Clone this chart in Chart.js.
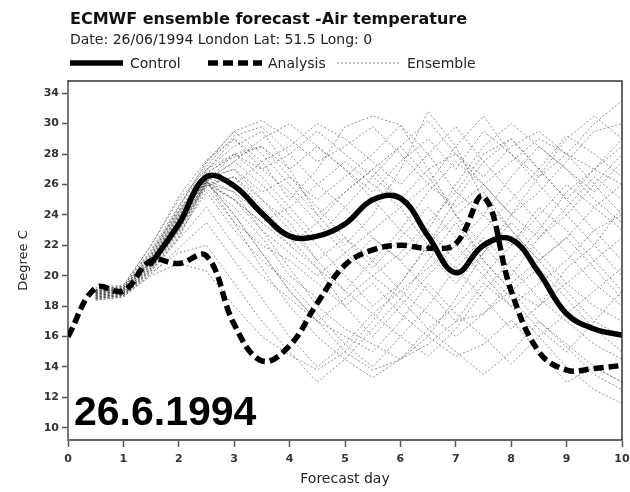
<!DOCTYPE html>
<html>
<head>
<meta charset="utf-8">
<script src="https://cdn.jsdelivr.net/npm/chart.js@4/dist/chart.umd.min.js"></script>
<style>
  html, body { margin: 0; padding: 0; background: #fff; }
  #wrap { width: 630px; height: 492px; }
</style>
</head>
<body>
<div id="wrap"><canvas id="c" width="630" height="492"></canvas></div>
<script>
// ---------- data ----------
const chartTitle = 'ECMWF ensemble forecast -Air temperature';
const chartSubtitle = 'Date: 26/06/1994 London Lat: 51.5 Long: 0';
const stampLabel = '26.6.1994';
const legendLabels = ['Control', 'Analysis', 'Ensemble'];
const xAxisTitle = 'Forecast day';
const yAxisTitle = 'Degree C';

const days = [0, 0.5, 1, 1.5, 2, 2.5, 3, 3.5, 4, 4.5, 5, 5.5, 6, 6.5, 7, 7.5, 8, 8.5, 9, 9.5, 10];
const ensembleDays = [0.5, 1, 1.5, 2, 2.5, 3, 3.5, 4, 4.5, 5, 5.5, 6, 6.5, 7, 7.5, 8, 8.5, 9, 9.5, 10];

const xTicks = [0, 1, 2, 3, 4, 5, 6, 7, 8, 9, 10];
const yTicks = [10, 12, 14, 16, 18, 20, 22, 24, 26, 28, 30, 32];
const yTickLabels = ['10', '12', '14', '16', '18', '20', '22', '24', '26', '28', '30', '34'];

const control  = [null, null, null, 20.8, 23.4, 26.5, 25.9, 24.1, 22.6, 22.6, 23.4, 25.0, 25.1, 22.6, 20.2, 22.0, 22.4, 20.2, 17.5, 16.5, 16.1];
const analysis = [16.0, 19.2, 19.0, 21.0, 20.8, 21.3, 16.8, 14.4, 15.4, 18.2, 20.7, 21.7, 22.0, 21.8, 22.1, 25.2, 19.0, 15.0, 13.8, 13.9, 14.1];

const ens01 = [19.0, 19.2, 21.5, 24.5, 27.5, 29.5, 30.2, 29.0, 27.5, 28.5, 29.8, 28.0, 26.0, 24.5, 26.0, 27.5, 29.0, 28.0, 30.0, 31.5];
const ens02 = [18.8, 19.0, 21.0, 24.0, 27.0, 28.5, 29.5, 27.0, 24.0, 22.0, 24.0, 27.0, 30.8, 28.5, 25.0, 23.0, 21.0, 19.0, 17.0, 16.0];
const ens03 = [19.0, 19.3, 22.0, 25.2, 27.6, 29.0, 27.5, 25.0, 27.0, 29.8, 30.5, 29.9, 27.0, 24.0, 21.0, 19.0, 18.0, 20.5, 22.0, 24.5];
const ens04 = [18.7, 18.9, 20.8, 23.5, 26.2, 27.5, 26.0, 24.0, 22.0, 20.0, 18.0, 19.5, 22.0, 25.0, 27.5, 29.0, 27.0, 25.0, 23.0, 21.0];
const ens05 = [18.6, 18.8, 20.5, 23.0, 26.0, 26.5, 25.0, 23.5, 21.0, 19.0, 17.5, 16.0, 14.7, 16.5, 19.0, 21.0, 23.0, 25.5, 27.0, 28.5];
const ens06 = [18.5, 18.7, 20.3, 22.5, 26.2, 25.0, 23.0, 20.5, 18.0, 16.5, 15.5, 14.5, 15.5, 17.0, 19.5, 18.0, 16.0, 14.0, 12.5, 11.6];
const ens07 = [18.9, 19.1, 21.2, 24.0, 26.2, 24.0, 21.5, 19.0, 17.0, 15.0, 13.8, 14.5, 16.0, 18.5, 21.5, 24.0, 26.5, 28.0, 26.0, 24.0];
const ens08 = [19.1, 19.3, 21.6, 24.2, 26.8, 27.8, 28.5, 26.5, 25.0, 26.5, 28.0, 29.9, 28.0, 25.5, 28.0, 29.0, 27.0, 25.0, 27.0, 29.0];
const ens09 = [18.7, 18.9, 20.6, 23.0, 26.2, 23.5, 20.5, 18.0, 16.0, 14.5, 13.3, 14.5, 16.5, 18.0, 20.0, 22.0, 24.5, 23.0, 21.0, 19.0];
const ens10 = [18.4, 18.6, 20.2, 21.5, 22.0, 19.5, 17.0, 15.0, 13.0, 14.5, 16.5, 18.5, 21.0, 23.5, 21.0, 19.0, 17.0, 15.5, 14.0, 13.0];
const ens11 = [18.5, 18.7, 20.0, 20.8, 20.3, 18.0, 16.0, 14.8, 13.8, 15.0, 17.0, 19.5, 22.0, 24.0, 25.5, 23.0, 21.0, 22.5, 24.5, 26.0];
const ens12 = [18.9, 19.2, 21.3, 24.5, 27.2, 29.2, 29.8, 28.0, 26.0, 24.5, 22.5, 21.0, 23.0, 26.0, 28.5, 30.0, 28.5, 27.0, 25.5, 27.5];
const ens13 = [19.0, 19.1, 21.0, 23.8, 26.2, 28.0, 26.5, 24.5, 22.5, 24.5, 26.5, 28.5, 26.5, 24.0, 22.0, 20.0, 22.5, 24.5, 26.5, 25.0];
const ens14 = [18.8, 19.0, 20.9, 23.2, 26.0, 24.5, 22.5, 20.0, 18.5, 20.5, 22.5, 21.0, 19.0, 17.0, 17.5, 19.0, 20.5, 18.5, 16.5, 15.0];
const ens15 = [18.6, 18.8, 20.4, 22.8, 25.5, 23.0, 21.0, 19.5, 17.5, 15.5, 14.0, 16.0, 18.0, 20.5, 22.5, 20.5, 18.5, 17.0, 15.5, 14.5];
const ens16 = [19.2, 19.4, 22.0, 25.0, 27.0, 28.0, 28.5, 27.0, 28.5, 27.0, 25.0, 23.0, 25.5, 27.5, 26.0, 24.0, 22.5, 24.0, 26.0, 28.0];
const ens17 = [18.9, 19.1, 21.1, 23.9, 26.3, 27.0, 25.5, 26.5, 24.5, 22.5, 20.5, 22.5, 24.5, 22.5, 20.5, 18.5, 16.5, 15.0, 17.0, 19.0];
const ens18 = [18.7, 18.9, 20.7, 23.3, 26.1, 25.5, 24.0, 22.0, 23.5, 25.5, 27.0, 25.0, 23.0, 21.0, 23.0, 25.0, 27.0, 29.2, 28.0, 26.5];
const ens19 = [18.8, 19.0, 20.8, 23.6, 26.4, 26.0, 27.5, 28.5, 30.0, 29.0, 27.5, 26.0, 28.0, 29.8, 27.5, 25.5, 23.5, 21.5, 19.5, 18.0];
const ens20 = [18.5, 18.7, 20.4, 22.6, 25.8, 23.5, 22.0, 21.0, 19.5, 18.0, 19.5, 17.5, 16.0, 14.7, 15.5, 17.1, 15.0, 13.0, 14.0, 13.0];
const ens21 = [19.0, 19.2, 21.4, 24.3, 26.9, 29.0, 27.0, 25.5, 23.5, 21.5, 20.0, 21.5, 23.5, 25.5, 24.0, 22.0, 24.0, 26.0, 24.5, 23.0];
const ens22 = [18.6, 18.8, 20.6, 23.1, 26.0, 25.0, 23.5, 24.5, 26.0, 27.5, 26.0, 24.5, 22.0, 20.5, 18.5, 16.5, 18.0, 19.5, 21.0, 22.5];
const ens23 = [18.9, 19.1, 21.2, 24.1, 26.5, 27.0, 25.0, 23.0, 21.0, 22.5, 21.0, 19.0, 20.5, 22.0, 24.0, 26.5, 28.5, 27.0, 25.0, 23.5];
const ens24 = [18.7, 18.9, 20.7, 23.4, 26.2, 24.0, 21.5, 19.0, 17.0, 16.0, 15.0, 17.0, 19.5, 17.5, 16.0, 14.2, 16.0, 17.5, 19.0, 20.5];
const ens25 = [18.8, 19.0, 20.9, 23.7, 26.3, 25.5, 23.0, 21.5, 20.0, 21.5, 23.0, 24.5, 26.0, 28.5, 30.5, 28.0, 26.0, 24.0, 22.0, 20.0];
const ens26 = [18.4, 18.6, 20.1, 21.8, 23.5, 21.0, 18.5, 16.0, 14.0, 15.5, 17.5, 19.0, 17.5, 16.0, 17.5, 19.5, 21.0, 22.5, 20.5, 18.5];
const ens27 = [19.1, 19.3, 21.7, 24.6, 27.4, 29.5, 28.0, 26.0, 24.0, 25.5, 27.0, 28.5, 30.2, 28.0, 26.0, 24.0, 25.5, 27.5, 29.5, 30.0];
const ens28 = [18.6, 18.8, 20.5, 22.9, 25.9, 26.5, 24.5, 22.5, 20.5, 19.0, 21.0, 23.0, 21.5, 19.5, 21.5, 23.5, 21.5, 19.5, 18.0, 17.0];
const ens29 = [18.9, 19.1, 21.0, 23.8, 26.3, 27.5, 29.0, 30.0, 28.5, 27.0, 25.5, 27.5, 29.0, 27.0, 29.5, 28.0, 26.5, 29.0, 30.5, 29.0];
const ens30 = [18.5, 18.7, 20.3, 22.4, 24.5, 22.0, 20.0, 18.5, 17.0, 18.5, 20.0, 18.5, 16.5, 15.0, 13.5, 15.0, 17.0, 15.3, 13.5, 12.5];
const ens31 = [18.8, 19.0, 20.9, 23.5, 26.1, 25.0, 23.5, 22.0, 20.5, 18.0, 16.0, 18.0, 20.0, 22.0, 20.0, 18.0, 19.5, 21.0, 23.0, 24.0];
const ens32 = [19.0, 19.2, 21.3, 24.2, 26.7, 28.0, 27.0, 28.0, 29.5, 28.0, 26.5, 25.0, 27.0, 28.0, 26.5, 28.5, 29.5, 28.0, 27.0, 26.0];

const ensembleMembers = [ens01, ens02, ens03, ens04, ens05, ens06, ens07, ens08, ens09, ens10,
  ens11, ens12, ens13, ens14, ens15, ens16, ens17, ens18, ens19, ens20,
  ens21, ens22, ens23, ens24, ens25, ens26, ens27, ens28, ens29, ens30, ens31, ens32];

// ---------- styles ----------
const CONTROL_STYLE = { color: '#000', width: 5.5, dash: [] };
const ANALYSIS_STYLE = { color: '#000', width: 5.5, dash: [10, 5] };
const ENSEMBLE_STYLE = { color: 'rgba(70,70,70,0.6)', width: 1, dash: [2, 2] };

const toPoints = (xs, ys) => xs.map((x, i) => ({ x: x, y: ys[i] }));

const datasets = [
  {
    label: legendLabels[0], data: toPoints(days, control),
    borderColor: CONTROL_STYLE.color, borderWidth: CONTROL_STYLE.width,
    tension: 0.4, pointRadius: 0, fill: false, borderCapStyle: 'round', borderJoinStyle: 'round'
  },
  {
    label: legendLabels[1], data: toPoints(days, analysis),
    borderColor: ANALYSIS_STYLE.color, borderWidth: ANALYSIS_STYLE.width, borderDash: ANALYSIS_STYLE.dash,
    tension: 0.4, pointRadius: 0, fill: false, borderCapStyle: 'butt'
  }
].concat(ensembleMembers.map((m, i) => ({
  label: legendLabels[2] + ' ' + (i + 1), data: toPoints(ensembleDays, m),
  borderColor: ENSEMBLE_STYLE.color, borderWidth: ENSEMBLE_STYLE.width, borderDash: ENSEMBLE_STYLE.dash,
  tension: 0, pointRadius: 0, fill: false
})));

// ---------- plugins ----------
const headerPlugin = {
  id: 'header',
  afterDraw(chart) {
    const ctx = chart.ctx;
    const left = chart.chartArea.left + 2;
    ctx.save();
    ctx.fillStyle = '#111';
    ctx.textBaseline = 'alphabetic';
    ctx.textAlign = 'left';
    ctx.font = 'bold 16px "DejaVu Sans"';
    ctx.fillText(chartTitle, left, 24);
    ctx.font = '14px "DejaVu Sans"';
    ctx.fillStyle = '#222';
    ctx.fillText(chartSubtitle, left, 44);

    // legend row
    const ly = 63;
    const items = [
      { style: CONTROL_STYLE, x0: left, x1: left + 53, tx: left + 60 },
      { style: ANALYSIS_STYLE, x0: left + 138, x1: left + 192, tx: left + 198 },
      { style: { color: 'rgba(110,110,110,0.8)', width: 1, dash: [2, 2] }, x0: left + 267, x1: left + 330, tx: left + 337 }
    ];
    items.forEach((it, i) => {
      ctx.beginPath();
      ctx.strokeStyle = it.style.color;
      ctx.lineWidth = it.style.width;
      ctx.setLineDash(it.style.dash);
      ctx.moveTo(it.x0, ly);
      ctx.lineTo(it.x1, ly);
      ctx.stroke();
      ctx.setLineDash([]);
      ctx.fillStyle = '#222';
      ctx.font = '14px "DejaVu Sans"';
      ctx.fillText(legendLabels[i], it.tx, 68);
    });
    ctx.restore();
  }
};

const framePlugin = {
  id: 'frame',
  afterDatasetsDraw(chart) {
    const { ctx, chartArea: a } = chart;
    ctx.save();
    ctx.strokeStyle = '#333';
    ctx.lineWidth = 1.5;
    ctx.beginPath();
    ctx.moveTo(a.left, a.top);
    ctx.lineTo(a.right, a.top);
    ctx.lineTo(a.right, a.bottom);
    ctx.stroke();
    // big date stamp
    ctx.fillStyle = '#000';
    ctx.font = 'bold 41px "Liberation Sans", Arial, sans-serif';
    ctx.textAlign = 'left';
    ctx.textBaseline = 'alphabetic';
    ctx.fillText(stampLabel, a.left + 6, a.bottom - 15);
    ctx.restore();
  }
};

// ---------- chart ----------
new Chart(document.getElementById('c'), {
  type: 'line',
  data: { datasets: datasets },
  options: {
    responsive: false,
    animation: false,
    events: [],
    layout: { padding: { top: 81, right: 8, left: 0, bottom: 0 } },
    plugins: {
      legend: { display: false },
      title: { display: false },
      tooltip: { enabled: false }
    },
    scales: {
      x: {
        type: 'linear', min: 0, max: 10,
        afterFit(s) { s.height = 52; s.paddingLeft = 0; s.paddingRight = 0; },
        afterBuildTicks(s) { s.ticks = xTicks.map(v => ({ value: v })); },
        grid: { drawOnChartArea: false, tickLength: 7, tickColor: '#555', tickWidth: 1.5 },
        border: { color: '#666', width: 2 },
        ticks: {
          padding: 6, color: '#333', maxRotation: 0, autoSkip: false,
          font: { family: 'DejaVu Sans', size: 11, weight: 'bold' }
        },
        title: {
          display: true, text: xAxisTitle, color: '#222',
          font: { family: 'DejaVu Sans', size: 14 }, padding: { top: 0, bottom: 4 }
        }
      },
      y: {
        type: 'linear', min: 9.2, max: 32.8,
        afterFit(s) { s.width = 68; s.paddingTop = 0; s.paddingBottom = 0; },
        afterBuildTicks(s) { s.ticks = yTicks.map(v => ({ value: v })); },
        grid: { drawOnChartArea: false, tickLength: 6, tickColor: '#555', tickWidth: 1.5 },
        border: { color: '#777', width: 2 },
        ticks: {
          padding: 3, color: '#333', autoSkip: false,
          font: { family: 'DejaVu Sans', size: 11, weight: 'bold' },
          callback(value) { const i = yTicks.indexOf(value); return i >= 0 ? yTickLabels[i] : ''; }
        },
        title: {
          display: true, text: yAxisTitle, color: '#222',
          font: { family: 'DejaVu Sans', size: 13 }, padding: { top: 16, bottom: 0 }
        }
      }
    }
  },
  plugins: [headerPlugin, framePlugin]
});
</script>
</body>
</html>
